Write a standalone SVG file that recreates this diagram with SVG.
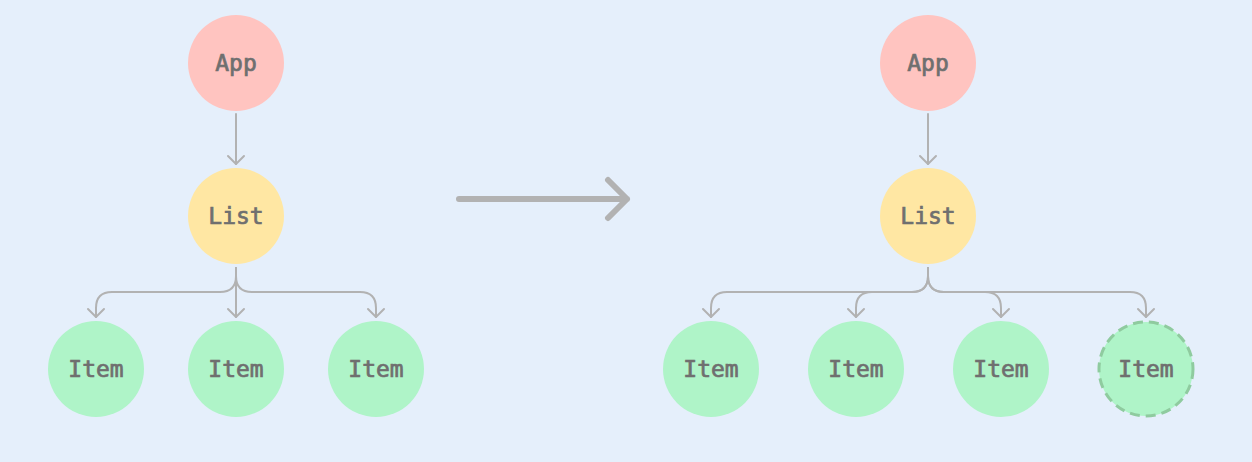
<svg xmlns="http://www.w3.org/2000/svg" width="1252" height="462" viewBox="0 0 1252 462">
  <style>
    .bg { fill: #e5effb; }
    .app { fill: #ffc4c0; }
    .list { fill: #ffe7a3; }
    .item { fill: #aff4c8; }
    .new { fill: #aff4c8; stroke: #8fcb9f; stroke-width: 3; stroke-dasharray: 10 6; }
    .label { font-family: "DejaVu Sans Mono", "Liberation Mono", monospace; font-size: 23px; font-weight: normal; fill: #6f6f6f; stroke: #6f6f6f; stroke-width: 0.7; text-anchor: middle; dominant-baseline: central; }
    .edge { fill: none; stroke: #b2b2b2; stroke-width: 2; stroke-linecap: round; stroke-linejoin: round; }
    .big { fill: none; stroke: #b2b2b2; stroke-width: 6; stroke-linecap: round; stroke-linejoin: round; }
  </style>
  <defs>
    <marker id="head" viewBox="0 0 20 20" refX="10" refY="10" markerWidth="20" markerHeight="20" markerUnits="userSpaceOnUse" orient="auto">
      <path d="M2,2 L10,10 L2,18" fill="none" stroke="#b2b2b2" stroke-width="2" stroke-linecap="round" stroke-linejoin="round"/>
    </marker>
  </defs>

  <rect class="bg" x="0" y="0" width="1252" height="462"/>

  <!-- connectors -->
  <g id="connectors">
    <!-- left tree -->
    <path class="edge" d="M236,114 L236,164" marker-end="url(#head)"/>
    <path class="edge" d="M236,268 L236,276 Q236,292 220,292 L112,292 Q96,292 96,308 L96,317" marker-end="url(#head)"/>
    <path class="edge" d="M236,268 L236,317" marker-end="url(#head)"/>
    <path class="edge" d="M236,268 L236,276 Q236,292 252,292 L360,292 Q376,292 376,308 L376,317" marker-end="url(#head)"/>
    <!-- transition arrow -->
    <path class="big" d="M459,199 L627,199 M608,180 L627,199 L608,218"/>
    <!-- right tree -->
    <path class="edge" d="M928,114 L928,164" marker-end="url(#head)"/>
    <path class="edge" d="M928,268 L928,276 Q928,292 912,292 L727,292 Q711,292 711,308 L711,317" marker-end="url(#head)"/>
    <path class="edge" d="M928,268 L928,276 Q928,292 912,292 L872,292 Q856,292 856,308 L856,317" marker-end="url(#head)"/>
    <path class="edge" d="M928,268 L928,276 Q928,292 944,292 L985,292 Q1001,292 1001,308 L1001,317" marker-end="url(#head)"/>
    <path class="edge" d="M928,268 L928,276 Q928,292 944,292 L1130,292 Q1146,292 1146,308 L1146,317" marker-end="url(#head)"/>
  </g>

  <!-- left tree nodes -->
  <g id="app-left"><circle class="app" cx="236" cy="63" r="48"/><text class="label" x="236" y="63">App</text></g>
  <g id="list-left"><circle class="list" cx="236" cy="216" r="48"/><text class="label" x="236" y="216">List</text></g>
  <g id="item-left-1"><circle class="item" cx="96" cy="369" r="48"/><text class="label" x="96" y="369">Item</text></g>
  <g id="item-left-2"><circle class="item" cx="236" cy="369" r="48"/><text class="label" x="236" y="369">Item</text></g>
  <g id="item-left-3"><circle class="item" cx="376" cy="369" r="48"/><text class="label" x="376" y="369">Item</text></g>

  <!-- right tree nodes -->
  <g id="app-right"><circle class="app" cx="928" cy="63" r="48"/><text class="label" x="928" y="63">App</text></g>
  <g id="list-right"><circle class="list" cx="928" cy="216" r="48"/><text class="label" x="928" y="216">List</text></g>
  <g id="item-right-1"><circle class="item" cx="711" cy="369" r="48"/><text class="label" x="711" y="369">Item</text></g>
  <g id="item-right-2"><circle class="item" cx="856" cy="369" r="48"/><text class="label" x="856" y="369">Item</text></g>
  <g id="item-right-3"><circle class="item" cx="1001" cy="369" r="48"/><text class="label" x="1001" y="369">Item</text></g>
  <g id="item-right-4"><circle class="new" cx="1146" cy="369" r="47"/><text class="label" x="1146" y="369">Item</text></g>
</svg>
